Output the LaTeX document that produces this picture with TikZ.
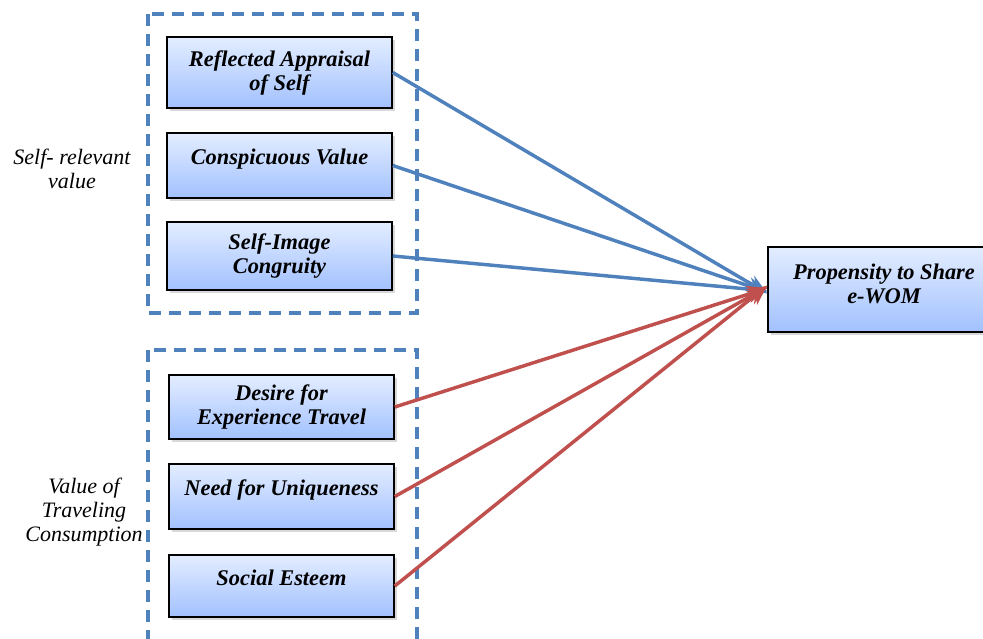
\documentclass[tikz,border=0pt]{standalone}
\usepackage{fontspec}
\setmainfont{Liberation Serif}
\usetikzlibrary{arrows.meta,shadows}

\definecolor{frameblue}{HTML}{4F81BD}
\definecolor{linkred}{HTML}{C0504D}
\definecolor{boxtop}{HTML}{E3EDFF}
\definecolor{boxbottom}{HTML}{A2C1FF}

\tikzset{
  factor/.style={draw=black, line width=1.2pt, top color=boxtop, bottom color=boxbottom,
    drop shadow={shadow xshift=2pt, shadow yshift=-2pt, opacity=0.3},
    minimum width=168.75pt, align=center,
    font=\fontsize{16.8}{18}\selectfont\bfseries\itshape},
  group/.style={draw=frameblue, line width=2.3pt, dash pattern=on 9pt off 6pt},
  grouplabel/.style={align=center, font=\fontsize{16.5}{18}\selectfont\itshape},
  link/.style={line width=2.6pt, -{Stealth[length=15pt, width=13pt, inset=5pt]}}
}

\begin{document}
\begin{tikzpicture}[x=0.75pt, y=-0.75pt]
  \clip (0,0) rectangle (983,639);
  \fill[white] (0,0) rectangle (983,639);

  % dashed frames round the two groups
  \draw[group] (148,14) rectangle (417,313);
  \draw[group] (148,350) rectangle (417,680);
  \node[grouplabel] (selflabel) at (72,169) {Self- relevant\\value};
  \node[grouplabel] (travellabel) at (84,512) {Value of\\Traveling\\Consumption};

  % antecedents
  \node[factor, minimum height=53pt] (appraisal) at (279.5,72.5) {Reflected Appraisal\\of Self};
  \node[factor, minimum height=49pt, text depth=13pt] (conspicuous) at (279.5,165.5) {Conspicuous Value};
  \node[factor, minimum height=51pt] (congruity) at (279.5,256) {Self-Image\\Congruity};
  \node[factor, minimum height=48pt] (desire) at (281.5,407) {Desire for\\Experience Travel};
  \node[factor, minimum height=49pt, text depth=13pt] (uniqueness) at (281.5,496.5) {Need for Uniqueness};
  \node[factor, minimum height=46.5pt, text depth=13pt] (esteem) at (281.5,586) {Social Esteem};

  % outcome
  \node[factor, minimum width=174pt, minimum height=64pt, text depth=9pt] (ewom) at (884,289.5) {Propensity to Share\\\textit{e}-WOM};

  % paths
  \draw[link, frameblue] (appraisal.east) -- ([yshift=-3pt]ewom.west);
  \draw[link, frameblue] (conspicuous.east) -- ([yshift=-2pt]ewom.west);
  \draw[link, frameblue] (congruity.east) -- ([yshift=-1pt]ewom.west);
  \draw[link, linkred] (desire.east) -- ([yshift=1pt]ewom.west);
  \draw[link, linkred] (uniqueness.east) -- ([yshift=2pt]ewom.west);
  \draw[link, linkred] (esteem.east) -- ([yshift=3pt]ewom.west);
\end{tikzpicture}
\end{document}
